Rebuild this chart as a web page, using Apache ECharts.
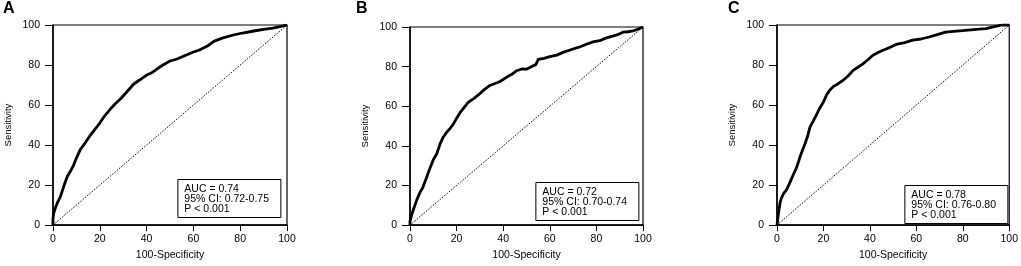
<!DOCTYPE html>
<html>
<head>
<meta charset="utf-8">
<script src="https://cdn.jsdelivr.net/npm/echarts@6/dist/echarts.min.js"></script>
<style>
  html, body { margin: 0; padding: 0; background: #fff; }
  #chart { width: 1021px; height: 266px; }
</style>
</head>
<body>
<div id="chart"></div>
<script>
// ROC curves, [100-specificity, sensitivity]
const rocA = [[0,0],[0,3],[0.3,6],[1,8.5],[2,11.5],[3.1,14],[4.5,19],[6,24],[7.5,27],[8.8,30],[10,33.5],[11.7,37.8],[14,41.5],[16,45],[18,48],[20,51],[22,54.5],[24.5,58],[26.5,60.5],[28.8,63],[31.5,66.5],[34.5,70.5],[37,72.5],[40,75],[42,76],[44.4,78],[47,80],[50,82],[53,83],[57,85],[60,86.5],[63,87.7],[66,89.5],[68.7,91.8],[72,93.3],[77,95],[81,96],[85.8,97],[90,97.8],[94,98.4],[97,99.2],[100,100]];
const rocB = [[0,0],[0,2],[0.7,5],[1.5,8],[2.1,10],[3,13],[4.3,16.5],[5.5,19],[7.1,24],[8.5,28.5],[10,33],[11.5,36],[12.9,41],[14.3,44.5],[15.7,46.8],[17,48.5],[18.6,51],[20,54],[21.4,56.6],[23,59],[25,62],[27.5,64],[30,66.4],[32,68.5],[34.3,70.5],[36.5,71.5],[38.6,72.5],[41.4,74.6],[43.5,76],[45.7,77.9],[48,78.8],[50,78.7],[52.9,80.4],[54,81],[55,83.6],[57.5,84.2],[60,85],[63,85.8],[65.7,87.2],[70,88.9],[72.5,89.8],[75.7,91.3],[78.5,92.5],[81.4,93.1],[84,94.4],[87,95.4],[89.5,96.3],[91.4,97.4],[93.5,97.6],[95.7,98],[98,99],[100,100]];
const rocC = [[0,0],[0.4,3.6],[0.9,8],[1.4,11.7],[2.1,14],[2.8,15.7],[4,17.5],[5,19.8],[6,22.5],[7.1,25.4],[8.5,29],[10,34.4],[11,37.5],[12.1,40.8],[13.2,44.5],[14.2,49],[15.6,52],[17.1,55.4],[18.5,58.7],[20,61.5],[21.4,65.2],[22.8,67.5],[24.2,69.2],[26.5,70.8],[28.5,72.4],[30.6,74.5],[32.8,77.3],[35,79],[37,80.6],[39,82.5],[41.3,84.9],[43.5,86.2],[45.6,87.4],[48.5,88.7],[51.3,90.3],[55,91.2],[58.4,92.4],[62,93],[65.5,94],[69,95.2],[72.6,96.4],[76,96.8],[79.8,97.2],[83.5,97.6],[86.9,97.9],[90,98.2],[92.6,98.9],[96.9,100],[100,100]];
const reference = [[0,0],[100,100]];

const panelLetters = ['A', 'B', 'C'];
const aucLabels = ['AUC = 0.74', 'AUC = 0.72', 'AUC = 0.78'];
const ciLabels = ['95% CI: 0.72-0.75', '95% CI: 0.70-0.74', '95% CI: 0.76-0.80'];
const pLabels = ['P < 0.001', 'P < 0.001', 'P < 0.001'];
const curves = [rocA, rocB, rocC];

// layout of each panel (pixels)
const grids = [
  { left: 53, right: 734, top: 25, bottom: 37 },
  { left: 410, right: 378, top: 27, bottom: 36 },
  { left: 777, right: 10, top: 25, bottom: 35 }
];
const letterPos = [{ left: 3, top: 1 }, { left: 356, top: 1 }, { left: 728, top: 1 }];
const boxPos = [{ right: 740, bottom: 48 }, { right: 382, bottom: 45 }, { right: 13, bottom: 42 }];

const font = 'Liberation Sans, Arial, sans-serif';
const chart = echarts.init(document.getElementById('chart'));

const option = {
  animation: false,
  backgroundColor: '#fff',
  title: [],
  grid: [],
  xAxis: [],
  yAxis: [],
  series: []
};

curves.forEach((curve, i) => {
  option.title.push({
    text: panelLetters[i],
    left: letterPos[i].left,
    top: letterPos[i].top,
    padding: 0,
    textStyle: { fontFamily: font, fontSize: 16, fontWeight: 'bold', color: '#000' }
  });
  option.title.push({
    text: [aucLabels[i], ciLabels[i], pLabels[i]].join('\n'),
    right: boxPos[i].right,
    bottom: boxPos[i].bottom,
    padding: [4, 12, 3, 7],
    borderColor: '#000',
    borderWidth: 1,
    backgroundColor: '#fff',
    textStyle: { fontFamily: font, fontSize: 10.5, fontWeight: 'normal', color: '#000', lineHeight: 10 }
  });
  option.grid.push(Object.assign({ show: true, borderColor: '#000', borderWidth: 1.2, backgroundColor: 'transparent' }, grids[i]));
  option.xAxis.push({
    gridIndex: i, type: 'value', min: 0, max: 100, interval: 20,
    name: '100-Specificity', nameLocation: 'middle', nameGap: 24,
    nameTextStyle: { fontFamily: font, fontSize: 10.5, color: '#000' },
    axisLine: { show: true, onZero: false, lineStyle: { color: '#000', width: 1.5 } },
    axisTick: { show: true, length: 6, lineStyle: { color: '#000', width: 1 } },
    axisLabel: { fontFamily: font, fontSize: 10.5, color: '#000', margin: 9 },
    splitLine: { show: false }
  });
  option.yAxis.push({
    gridIndex: i, type: 'value', min: 0, max: 100, interval: 20,
    name: 'Sensitivity', nameLocation: 'middle', nameGap: 40,
    nameTextStyle: { fontFamily: font, fontSize: 9.5, color: '#000' },
    axisLine: { show: true, onZero: false, lineStyle: { color: '#000', width: 1.5 } },
    axisTick: { show: true, length: 8, lineStyle: { color: '#000', width: 1 } },
    axisLabel: { fontFamily: font, fontSize: 10.5, color: '#000', margin: 13 },
    splitLine: { show: false }
  });
  option.series.push({
    type: 'line', xAxisIndex: i, yAxisIndex: i, data: reference,
    symbol: 'none', silent: true,
    lineStyle: { color: '#000', width: 1, type: [1.5, 1.5] }
  });
  option.series.push({
    type: 'line', xAxisIndex: i, yAxisIndex: i, data: curve,
    symbol: 'none', silent: true,
    lineStyle: { color: '#000', width: 2.8 }
  });
});

chart.setOption(option);
</script>
</body>
</html>
